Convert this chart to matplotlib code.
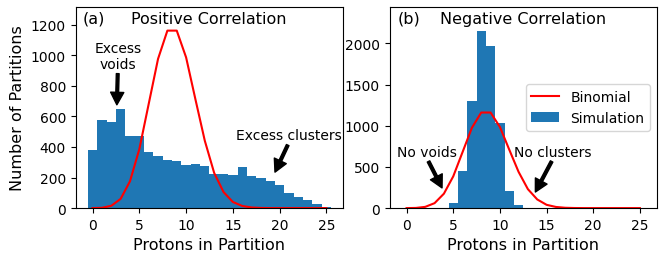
import numpy as np
import matplotlib
matplotlib.use("Agg")
import matplotlib.pyplot as plt

# protons per partition (bin centres)
protons = np.arange(0, 26)

# binomial expectation (same for both panels)
binomial = [0, 2, 15, 60, 175, 385, 680, 975, 1160, 1160, 985, 710, 440,
            230, 105, 40, 14, 4, 1, 0, 0, 0, 0, 0, 0, 0]

# simulation, positive correlation
sim_pos = [380, 576, 563, 648, 471, 471, 369, 340, 316, 310, 281, 288, 275,
           222, 222, 216, 268, 209, 200, 177, 150, 98, 72, 52, 26, 9]

# simulation, negative correlation
sim_neg = [0, 0, 0, 0, 0, 61, 449, 1300, 2150, 1968, 1032, 206, 40,
           0, 0, 0, 0, 0, 0, 0, 0, 0, 0, 0, 0, 0]

fig = plt.figure(figsize=(6.64, 2.55), dpi=100)
ax1 = fig.add_axes([0.114, 0.180, 0.403, 0.789])
ax2 = fig.add_axes([0.587, 0.180, 0.402, 0.789])

# === (a) positive correlation ===
ax1.bar(protons, sim_pos, width=1.0, color="C0", label="Simulation")
ax1.plot(protons, binomial, color="red", lw=1.5, label="Binomial")
ax1.set_xlim(-1.8, 26.8)
ax1.set_ylim(0, 1315)
ax1.set_xlabel("Protons in Partition", fontsize=11.5)
ax1.set_ylabel("Number of Partitions", fontsize=11.5)
ax1.tick_params(labelsize=10)
ax1.set_xticks([0, 5, 10, 15, 20, 25])
ax1.text(0.068, 0.944, "(a)", transform=ax1.transAxes, ha="center", va="center", fontsize=11.5)
ax1.text(0.498, 0.944, "Positive Correlation", transform=ax1.transAxes, ha="center", va="center", fontsize=11.5)

arrow = dict(facecolor="black", width=2.0, headwidth=9.5, headlength=9, shrink=0.0)
ax1.annotate("Excess\nvoids", xy=(2.6, 675), xytext=(2.7, 897), ha="center", va="bottom",
             fontsize=10, arrowprops=arrow)
ax1.annotate("Excess clusters", xy=(19.5, 235), xytext=(21.0, 430), ha="center", va="bottom",
             fontsize=10, arrowprops=arrow)

# === (b) negative correlation ===
ax2.bar(protons, sim_neg, width=1.0, color="C0", label="Simulation")
ax2.plot(protons, binomial, color="red", lw=1.5, label="Binomial")
ax2.set_xlim(-1.8, 26.8)
ax2.set_ylim(0, 2442)
ax2.set_xlabel("Protons in Partition", fontsize=11.5)
ax2.tick_params(labelsize=10)
ax2.set_xticks([0, 5, 10, 15, 20, 25])
ax2.text(0.072, 0.944, "(b)", transform=ax2.transAxes, ha="center", va="center", fontsize=11.5)
ax2.text(0.501, 0.944, "Negative Correlation", transform=ax2.transAxes, ha="center", va="center", fontsize=11.5)

ax2.annotate("No voids", xy=(3.8, 245), xytext=(2.2, 600), ha="center", va="bottom",
             fontsize=10, arrowprops=arrow)
ax2.annotate("No clusters", xy=(13.8, 195), xytext=(15.7, 600), ha="center", va="bottom",
             fontsize=10, arrowprops=arrow)

handles, labels = ax2.get_legend_handles_labels()
order = [labels.index("Binomial"), labels.index("Simulation")]
ax2.legend([handles[i] for i in order], [labels[i] for i in order], loc="center right", fontsize=10)

fig.savefig("out.png", dpi=100)
